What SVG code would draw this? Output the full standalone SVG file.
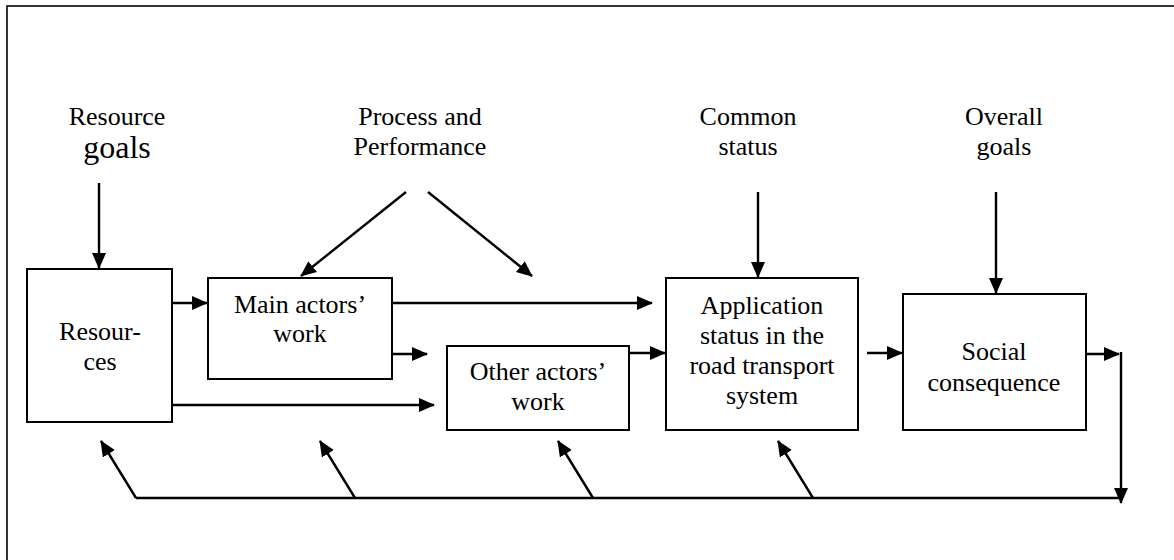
<svg xmlns="http://www.w3.org/2000/svg" width="1174" height="560" viewBox="0 0 1174 560">
<defs>
<marker id="ah" markerUnits="userSpaceOnUse" markerWidth="18" markerHeight="16" refX="15" refY="7" orient="auto">
<path d="M0,0 L16,7 L0,14 z" fill="#000"/>
</marker>
<style>
.t{font-family:'Liberation Serif','DejaVu Serif','Times New Roman',serif;font-size:26px;fill:#000;text-anchor:middle}
.big{font-size:32px}
.box{fill:#fff;stroke:#000;stroke-width:2}
.c{fill:none;stroke:#000;stroke-width:2.4}
.a{marker-end:url(#ah)}
</style>
</defs>
<rect x="0" y="0" width="1174" height="560" fill="#fff"/>
<rect x="7" y="6" width="1200" height="620" fill="none" stroke="#000" stroke-width="1.6"/>

<g id="label-resource-goals" font-family="Liberation Serif, serif">
<text class="t" x="117" y="125">Resource</text>
<text class="t big" x="117" y="158">goals</text>
</g>
<g id="label-process" font-family="Liberation Serif, serif">
<text class="t" x="420" y="125">Process and</text>
<text class="t" x="420" y="155">Performance</text>
</g>
<g id="label-common" font-family="Liberation Serif, serif">
<text class="t" x="748" y="125">Common</text>
<text class="t" x="748" y="155">status</text>
</g>
<g id="label-overall" font-family="Liberation Serif, serif">
<text class="t" x="1004" y="125">Overall</text>
<text class="t" x="1004" y="155">goals</text>
</g>

<g id="node-resources" font-family="Liberation Serif, serif">
<rect class="box" x="27" y="269" width="145" height="153"/>
<text class="t" x="100" y="340">Resour-</text>
<text class="t" x="100" y="370">ces</text>
</g>
<g id="node-main" font-family="Liberation Serif, serif">
<rect class="box" x="208" y="278" width="184" height="101"/>
<text class="t" x="300" y="313">Main actors’</text>
<text class="t" x="300" y="342">work</text>
</g>
<g id="node-other" font-family="Liberation Serif, serif">
<rect class="box" x="447" y="346" width="182" height="84"/>
<text class="t" x="538" y="380">Other actors’</text>
<text class="t" x="538" y="410">work</text>
</g>
<g id="node-application" font-family="Liberation Serif, serif">
<rect class="box" x="666" y="278" width="192" height="152"/>
<text class="t" x="762" y="314">Application</text>
<text class="t" x="762" y="344">status in the</text>
<text class="t" x="762" y="374">road transport</text>
<text class="t" x="762" y="404">system</text>
</g>
<g id="node-social" font-family="Liberation Serif, serif">
<rect class="box" x="903" y="294" width="183" height="136"/>
<text class="t" x="994" y="360">Social</text>
<text class="t" x="994" y="391">consequence</text>
</g>

<g id="connectors">
<path class="c a" d="M99,183 L99,268"/>
<path class="c a" d="M406,192 L301,276"/>
<path class="c a" d="M428,192 L532,276"/>
<path class="c a" d="M758,192 L758,277"/>
<path class="c a" d="M996,192 L996,293"/>
<path class="c a" d="M172,303 L207,303"/>
<path class="c a" d="M392,303 L652,303"/>
<path class="c a" d="M392,354 L427,354"/>
<path class="c a" d="M172,405 L434,405"/>
<path class="c a" d="M629,353 L665,353"/>
<path class="c a" d="M867,353 L902,353"/>
<path class="c a" d="M1086,354 L1119,354"/>
<path class="c a" d="M1121,352 L1121,503"/>
<path class="c" d="M136,498 L1121,498"/>
<path class="c a" d="M136,498 L101,441"/>
<path class="c a" d="M355,498 L320,441"/>
<path class="c a" d="M593,498 L558,441"/>
<path class="c a" d="M813,498 L778,441"/>
</g>
</svg>
